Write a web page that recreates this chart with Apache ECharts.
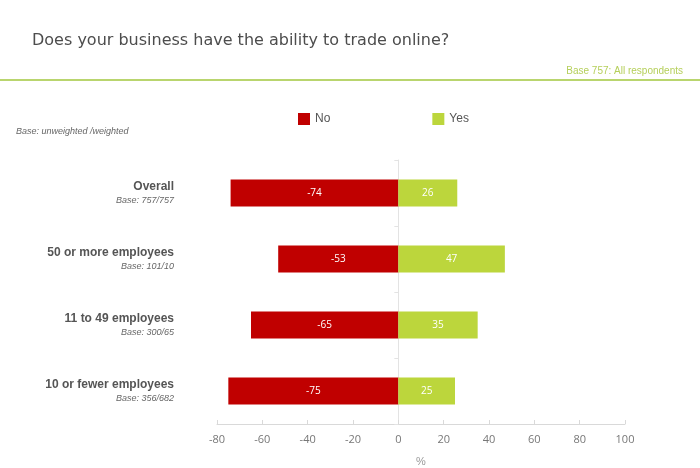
<!DOCTYPE html>
<html>
<head>
<meta charset="utf-8">
<script src="https://cdn.jsdelivr.net/npm/echarts@6/dist/echarts.min.js"></script>
<style>
  html, body { margin: 0; padding: 0; background: #fff; }
  #chart { width: 700px; height: 468px; }
</style>
</head>
<body>
<div id="chart"></div>
<script>
// data
const groups = ['Overall', '50 or more employees', '11 to 49 employees', '10 or fewer employees'];
const bases = ['Base: 757/757', 'Base: 101/10', 'Base: 300/65', 'Base: 356/682'];
const noValues = [-74, -53, -65, -75];
const yesValues = [26, 47, 35, 25];
const xTicks = [-80, -60, -40, -20, 0, 20, 40, 60, 80, 100];

const chart = echarts.init(document.getElementById('chart'));

const option = {
  animation: false,
  title: [
    {
      text: 'Does your business have the ability to trade online?',
      left: 27, top: 28,
      textStyle: { fontFamily: 'DejaVu Sans', fontSize: 16, fontWeight: 'normal', color: '#4d4d4d' }
    },
    {
      text: 'Base 757: All respondents',
      right: 12, top: 61,
      textStyle: { fontFamily: 'Liberation Sans', fontSize: 10, fontWeight: 'normal', color: '#b5cf5a' }
    },
    {
      text: 'Base: unweighted /weighted',
      left: 11, top: 122,
      textStyle: { fontFamily: 'Liberation Sans', fontSize: 9, fontWeight: 'normal', fontStyle: 'italic', color: '#666' }
    }
  ],
  graphic: [
    { type: 'rect', shape: { x: 0, y: 79, width: 700, height: 2 }, style: { fill: '#b9d56e' } }
  ],
  legend: {
    data: ['No', 'Yes'],
    top: 108, left: 293,
    itemGap: 102,
    itemWidth: 12, itemHeight: 12,
    icon: 'rect',
    textStyle: { fontFamily: 'Liberation Sans', fontSize: 12, color: '#555' }
  },
  grid: { left: 217, right: 75, top: 160, bottom: 44, outerBoundsMode: 'none' },
  xAxis: {
    type: 'value',
    min: -80, max: 100, interval: 20,
    name: '%', nameLocation: 'middle', nameGap: 32,
    nameTextStyle: { color: '#999', fontSize: 11, fontFamily: 'Liberation Sans' },
    axisLine: { show: true, lineStyle: { color: '#d9d9d9' } },
    axisTick: { show: true, inside: true, length: 4, lineStyle: { color: '#d9d9d9' } },
    splitLine: { show: false },
    axisLabel: {
      color: '#777', fontSize: 11, fontFamily: 'Open Sans', margin: 10,
      formatter: v => xTicks.includes(v) ? String(v) : ''
    }
  },
  yAxis: {
    type: 'category',
    inverse: true,
    data: groups,
    axisLine: { show: true, onZero: true, lineStyle: { color: '#e3e3e3' } },
    axisTick: { show: true, length: 4, lineStyle: { color: '#e3e3e3' } },
    axisLabel: {
      margin: 43,
      align: 'right',
      formatter: (v, i) => '{a|' + v + '}\n{b|' + bases[i] + '}',
      rich: {
        a: { fontFamily: 'Liberation Sans', fontWeight: 'bold', fontSize: 12, color: '#555', align: 'right', lineHeight: 15 },
        b: { fontFamily: 'Liberation Sans', fontStyle: 'italic', fontSize: 9, color: '#666', align: 'right', lineHeight: 12 }
      }
    }
  },
  series: [
    {
      name: 'No', type: 'bar', stack: 'total',
      data: noValues,
      barWidth: 27,
      itemStyle: { color: '#c00000' },
      label: { show: true, position: 'inside', color: '#fff', fontSize: 10, fontFamily: 'Open Sans' }
    },
    {
      name: 'Yes', type: 'bar', stack: 'total',
      data: yesValues,
      barWidth: 27,
      itemStyle: { color: '#bcd63c' },
      label: { show: true, position: 'inside', color: '#fff', fontSize: 10, fontFamily: 'Open Sans' }
    }
  ]
};

chart.setOption(option);
</script>
</body>
</html>
